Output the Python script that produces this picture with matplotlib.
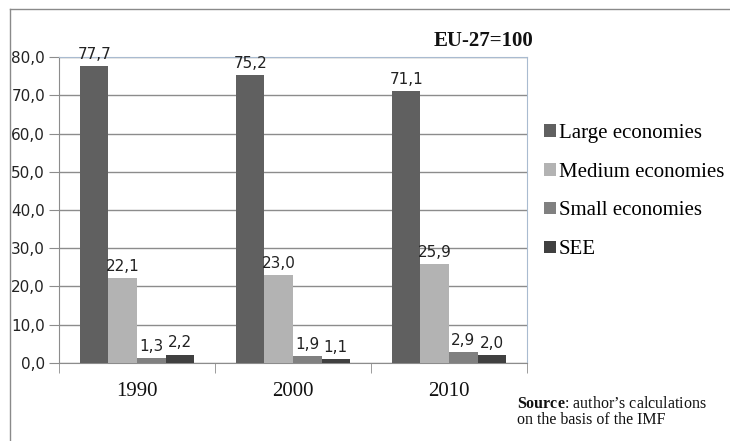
import matplotlib
matplotlib.use("Agg")
import matplotlib.pyplot as plt
import numpy as np
from matplotlib.patches import Patch

years = ["1990", "2000", "2010"]
series_names = ["Large economies", "Medium economies", "Small economies", "SEE"]
large = [77.7, 75.2, 71.1]
medium = [22.1, 23.0, 25.9]
small = [1.3, 1.9, 2.9]
see = [2.2, 1.1, 2.0]
yticks = [0, 10, 20, 30, 40, 50, 60, 70, 80]

colors = ["#606060", "#b3b3b3", "#808080", "#404040"]
series = [large, medium, small, see]

plt.rcParams["mathtext.fontset"] = "custom"
plt.rcParams["mathtext.rm"] = "Liberation Serif"
plt.rcParams["mathtext.bf"] = "Liberation Serif:bold"

fig = plt.figure(figsize=(7.30, 4.41), dpi=100)
ax = fig.add_axes([0.0808, 0.1769, 0.6411, 0.6938])

# outer frame: only the left and top edges show in the picture
fig.add_artist(plt.Line2D([0.0137, 0.0137], [0, 0.980], transform=fig.transFigure,
                          color="#8a8a8a", lw=1))
fig.add_artist(plt.Line2D([0.0137, 1.0], [0.980, 0.980], transform=fig.transFigure,
                          color="#8a8a8a", lw=1))

x = np.arange(len(years))
w = 0.183
for i, (vals, c) in enumerate(zip(series, colors)):
    pos = x + (i - 1.5) * w
    ax.bar(pos, vals, width=w, color=c, zorder=3)
    for p, v in zip(pos, vals):
        ax.annotate(f"{v:.1f}".replace(".", ","), (p, v), xytext=(0, 3),
                    textcoords="offset points", ha="center", va="bottom",
                    fontsize=11, family="DejaVu Sans", color="#222222")

ax.set_xlim(-0.5, 2.5)
ax.set_ylim(0, 80)
ax.set_yticks(yticks)
ax.set_yticklabels([f"{t:.1f}".replace(".", ",") for t in yticks],
                   fontsize=11, family="DejaVu Sans", color="#222222")
ax.yaxis.grid(True, color="#8c8c8c", lw=1, zorder=0)
ax.tick_params(axis="y", length=7, color="#8c8c8c", pad=3)

ax.set_xticks(x)
ax.set_xticklabels(years, fontsize=15, family="Liberation Serif", color="#111111")
ax.tick_params(axis="x", length=0, pad=14)
ax.set_xticks([-0.5, 0.5, 1.5, 2.5], minor=True)
ax.tick_params(axis="x", which="minor", length=7, color="#8c8c8c")

for s in ["left", "bottom"]:
    ax.spines[s].set_color("#8c8c8c")
for s in ["top", "right"]:
    ax.spines[s].set_color("#a9bbd0")

handles = [Patch(facecolor=c, edgecolor="none") for c in colors]
fig.legend(handles, series_names, loc="upper left", bbox_to_anchor=(0.723, 0.757),
           frameon=False, prop={"family": "Liberation Serif", "size": 15},
           handlelength=0.55, handleheight=0.55, handletextpad=0.15,
           labelspacing=0.95, borderpad=0.3)

fig.text(0.594, 0.908, "EU-27=100", fontsize=15, fontweight="bold",
         family="Liberation Serif", ha="left", va="center", color="#111111")

fig.text(0.708, 0.066, "$\\mathbf{Source}$: author\u2019s calculations\non the basis of the IMF",
         fontsize=11.5, family="Liberation Serif", ha="left", va="center",
         color="#111111", linespacing=1.05)

plt.savefig("out.png", dpi=100)
